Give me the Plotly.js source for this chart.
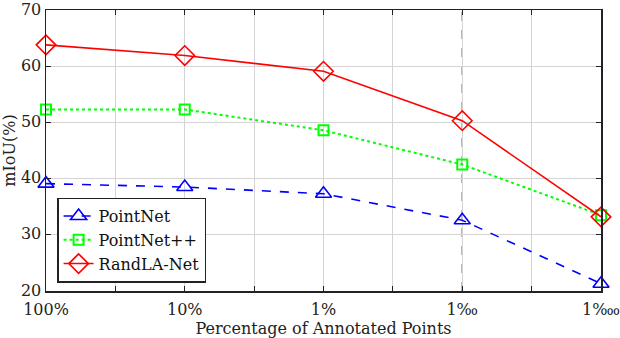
<!DOCTYPE html>
<html>
<head>
<meta charset="utf-8">
<script src="https://cdn.plot.ly/plotly-3.0.1.min.js"></script>
<style>
  html, body { margin: 0; padding: 0; background: #fff; }
  #chart { width: 620px; height: 338px; }
</style>
</head>
<body>
<div id="chart"></div>
<script>
// categories on the x axis
const categories = ['100%', '10%', '1%', '1‰', '1‱'];

// mIoU values
const pointNet     = [39.1, 38.5, 37.3, 32.6, 21.3];
const pointNetPP   = [52.3, 52.3, 48.6, 42.5, 33.5];
const randLANet    = [63.8, 61.9, 59.1, 50.3, 33.2];

const yTicks = [20, 30, 40, 50, 60, 70];

const xIdx = categories.map((c, i) => i);

// ticks every half step, labels only on whole steps (matlab style minor grid)
const tickVals = [];
const tickText = [];
for (let i = 0; i < categories.length; i++) {
  tickVals.push(i);
  tickText.push(categories[i]);
  if (i < categories.length - 1) {
    tickVals.push(i + 0.5);
    tickText.push('');
  }
}

const font = 'DejaVu Serif';

const traces = [
  {
    x: xIdx, y: pointNet, name: 'PointNet',
    mode: 'lines+markers', cliponaxis: false,
    line: { color: '#0000ff', width: 1.6, dash: 'dash' },
    marker: { symbol: 'triangle-up-open', size: 14, color: '#0000ff', line: { width: 1.6 } }
  },
  {
    x: xIdx, y: pointNetPP, name: 'PointNet++',
    mode: 'lines+markers', cliponaxis: false,
    line: { color: '#00ff00', width: 2, dash: 'dot' },
    marker: { symbol: 'square-open', size: 10, color: '#00ff00', line: { width: 2 } }
  },
  {
    x: xIdx, y: randLANet, name: 'RandLA-Net',
    mode: 'lines+markers', cliponaxis: false,
    line: { color: '#ff0000', width: 1.6 },
    marker: { symbol: 'diamond-open', size: 15, color: '#ff0000', line: { width: 1.6 } }
  }
];

const layout = {
  width: 620, height: 338,
  margin: { l: 46, r: 19, t: 10, b: 47 },
  paper_bgcolor: '#fff', plot_bgcolor: '#fff',
  font: { family: font, size: 16, color: '#222' },
  showlegend: true,
  legend: {
    x: 0.02, y: 0.03, xanchor: 'left', yanchor: 'bottom',
    bgcolor: '#fff', bordercolor: '#222', borderwidth: 1.5,
    font: { family: font, size: 16, color: '#111' },
    tracegroupgap: 0, itemwidth: 30
  },
  xaxis: {
    range: [0, categories.length - 1],
    tickmode: 'array', tickvals: tickVals, ticktext: tickText,
    ticks: 'inside', ticklen: 5, tickcolor: '#222',
    ticklabeloverflow: 'allow', ticklabelstandoff: 3,
    showgrid: true, gridcolor: '#d4d4d4', gridwidth: 1.2,
    showline: true, linecolor: '#222', linewidth: 1.5, mirror: 'ticks',
    zeroline: false,
    tickfont: { family: font, size: 16, color: '#222' },
    title: { text: 'Percentage of Annotated Points', font: { family: font, size: 16, color: '#222' }, standoff: 0 }
  },
  yaxis: {
    range: [20, 70],
    tickmode: 'array', tickvals: yTicks, ticktext: yTicks.map(String),
    ticks: 'inside', ticklen: 5, tickcolor: '#222',
    ticklabeloverflow: 'allow', ticklabelshift: -1,
    showgrid: true, gridcolor: '#d4d4d4', gridwidth: 1.2,
    showline: true, linecolor: '#222', linewidth: 1.5, mirror: 'ticks',
    zeroline: false,
    tickfont: { family: font, size: 16, color: '#222' },
    title: { text: 'mIoU(%)', font: { family: font, size: 16, color: '#222' }, standoff: 2 }
  },
  shapes: [
    {
      type: 'line', xref: 'x', yref: 'paper',
      x0: 3, x1: 3, y0: 0, y1: 1,
      line: { color: '#333', width: 1.2, dash: 'dash' },
      layer: 'between'
    }
  ]
};

Plotly.newPlot('chart', traces, layout, { displayModeBar: false, staticPlot: true });
</script>
</body>
</html>
